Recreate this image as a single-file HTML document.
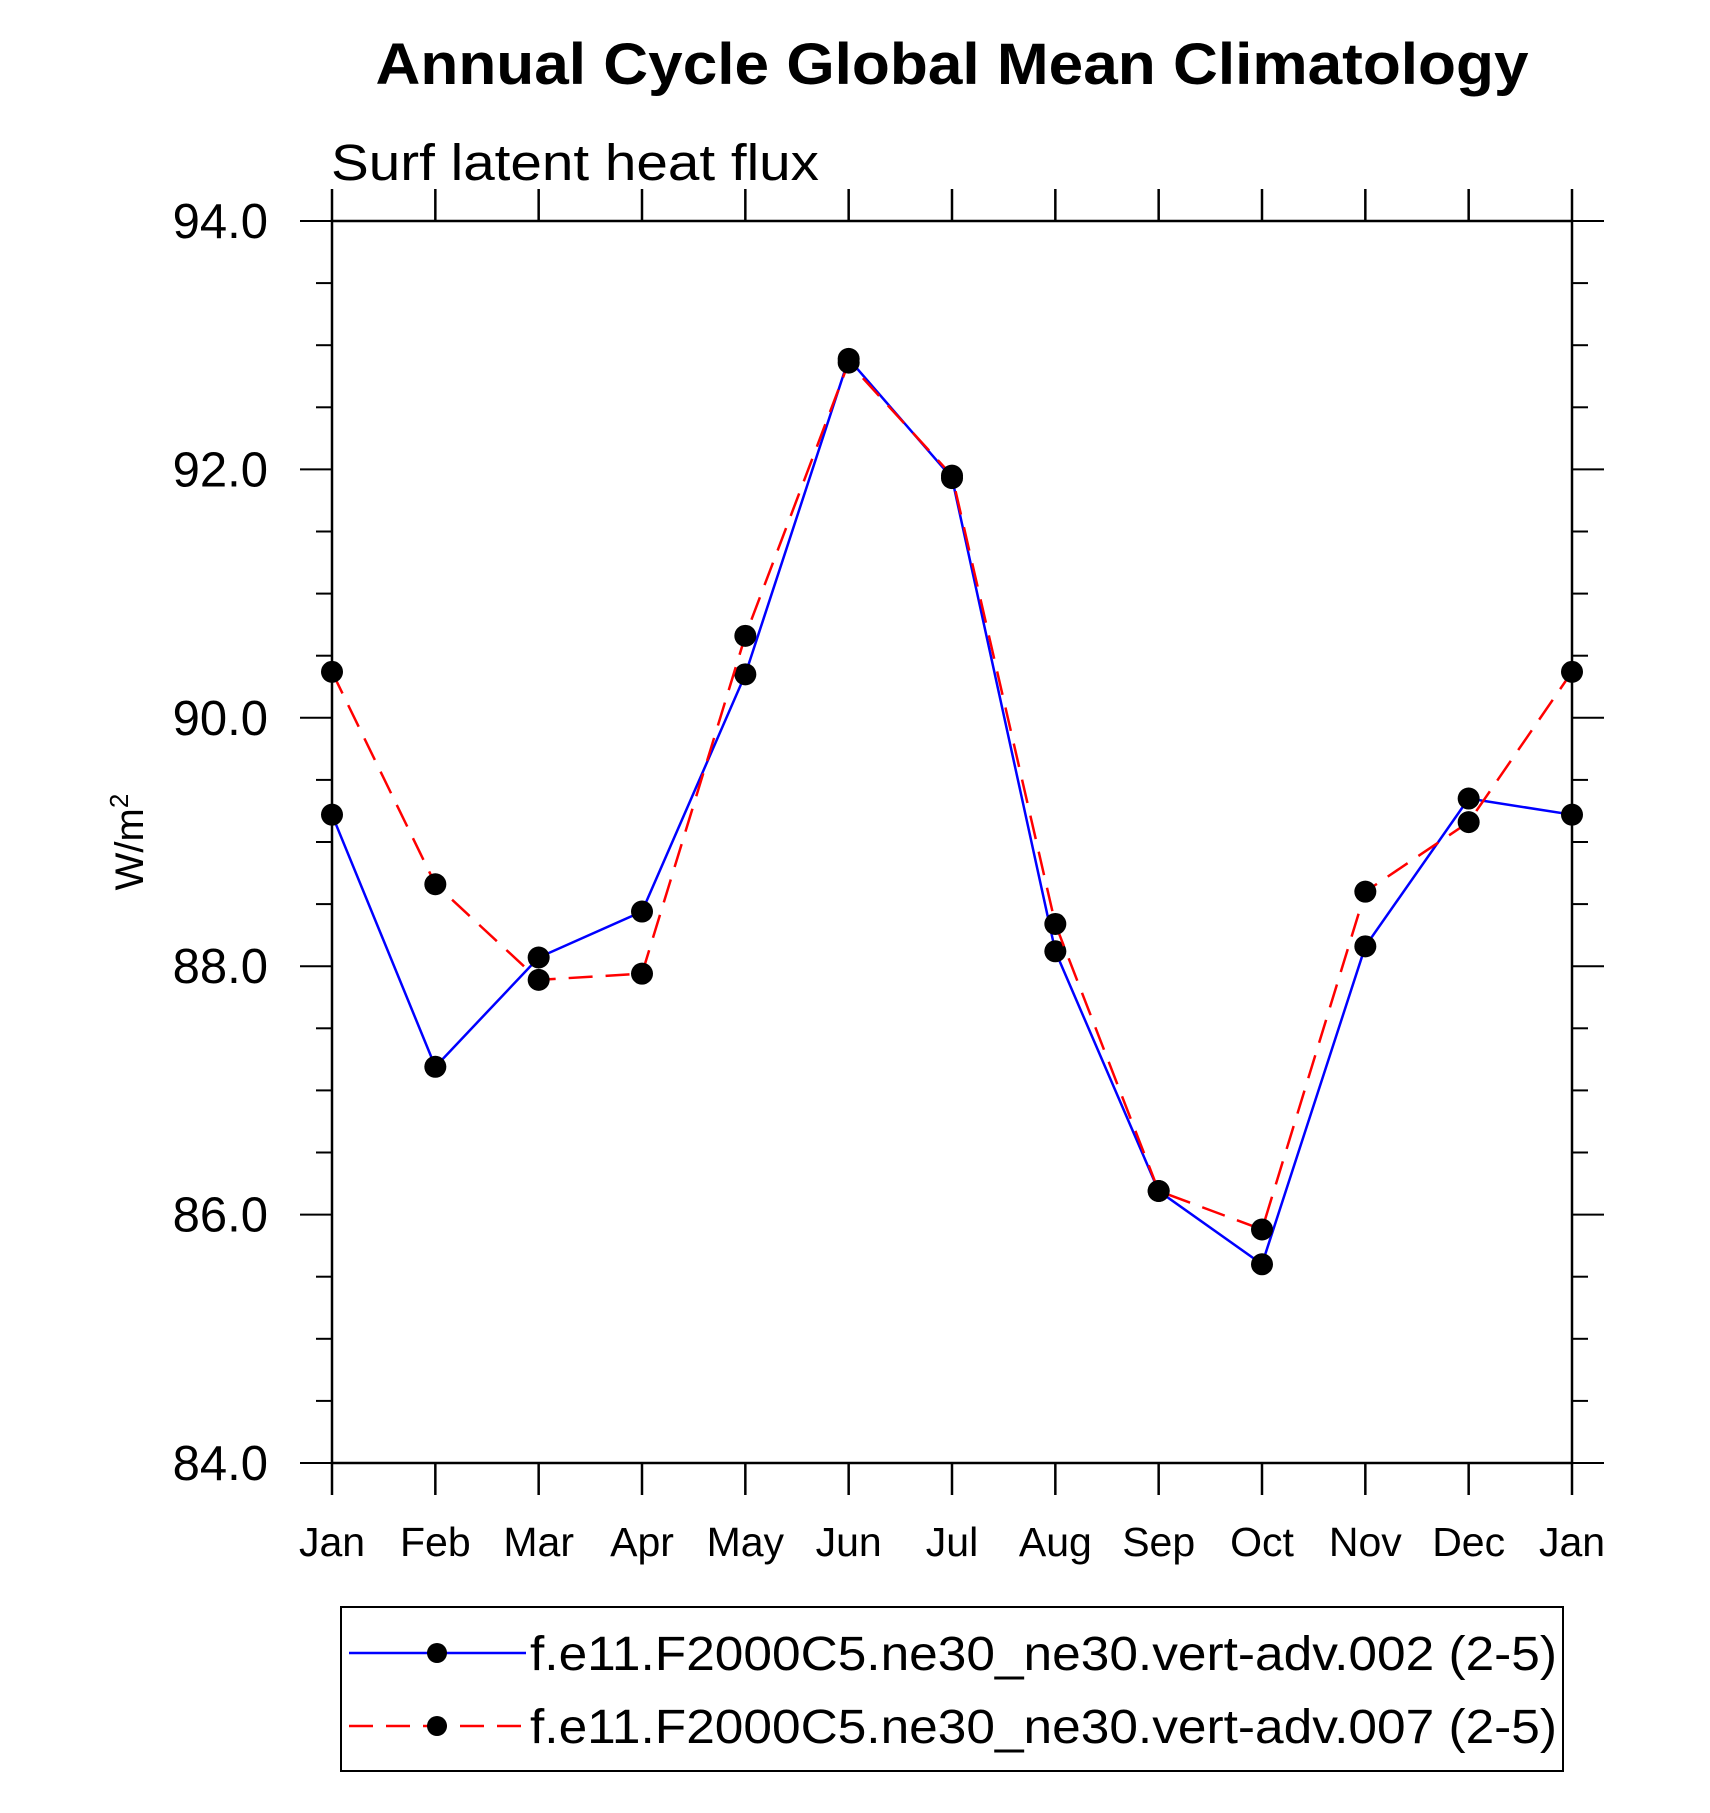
<!DOCTYPE html>
<html><head><meta charset="utf-8"><style>
body{margin:0;background:#fff}
svg{display:block;font-family:"Liberation Sans",Arial,sans-serif}
</style></head><body>
<svg id="chart" width="1710" height="1813" viewBox="0 0 1710 1813">
<text x="952" y="84" text-anchor="middle" font-size="58" font-weight="bold" textLength="1153" lengthAdjust="spacingAndGlyphs">Annual Cycle Global Mean Climatology</text>
<text x="331" y="180" font-size="51" textLength="488" lengthAdjust="spacingAndGlyphs">Surf latent heat flux</text>
<g id="axes"></g>
<g id="series"></g>
<text transform="translate(143,842) rotate(-90)" text-anchor="middle" font-size="40">W/m<tspan dy="-15" font-size="26">2</tspan></text>
<g>
<rect x="341" y="1607" width="1222" height="164" fill="none" stroke="#000" stroke-width="2"/>
<g>
<line x1="349" y1="1653" x2="526" y2="1653" stroke="#0000ff" stroke-width="2.5"/>
<circle cx="437" cy="1653" r="10" fill="#000"/>
<text x="530" y="1670" font-size="48" textLength="1027" lengthAdjust="spacingAndGlyphs">f.e11.F2000C5.ne30_ne30.vert-adv.002 (2-5)</text>
</g>
<g>
<line x1="349" y1="1726" x2="526" y2="1726" stroke="#ff0000" stroke-width="2.5" stroke-dasharray="24,13"/>
<circle cx="437" cy="1726" r="10" fill="#000"/>
<text x="530" y="1743" font-size="48" textLength="1027" lengthAdjust="spacingAndGlyphs">f.e11.F2000C5.ne30_ne30.vert-adv.007 (2-5)</text>
</g>
</g>
</svg>
<script>
const months = ["Jan","Feb","Mar","Apr","May","Jun","Jul","Aug","Sep","Oct","Nov","Dec","Jan"];
const series002 = [89.22,87.19,88.07,88.44,90.35,92.89,91.93,88.12,86.19,85.60,88.16,89.35,89.22];
const series007 = [90.37,88.66,87.89,87.94,90.66,92.86,91.95,88.34,86.19,85.88,88.60,89.16,90.37];
const yTicks = ["84.0","86.0","88.0","90.0","92.0","94.0"];
const yMin = 84, yMax = 94;

const L=332,R=1572,T=221,B=1463;
const NS="http://www.w3.org/2000/svg";
const xs = i => L + (R-L)*i/(months.length-1);
const ys = v => B - (B-T)*(v-yMin)/(yMax-yMin);
const axes=document.getElementById('axes');
const ser=document.getElementById('series');
function mk(tag,attrs,parent){const e=document.createElementNS(NS,tag);for(const k in attrs)e.setAttribute(k,attrs[k]);parent.appendChild(e);return e;}

const frame=mk('rect',{x:L,y:T,width:R-L,height:B-T,fill:'none',stroke:'#000','stroke-width':2.5},axes);



months.forEach((m,i)=>{
  const x=xs(i);
  const t1=mk('line',{x1:x,y1:B,x2:x,y2:B+32,stroke:'#000','stroke-width':2.5},axes);
  
  
  const t2=mk('line',{x1:x,y1:T,x2:x,y2:T-32,stroke:'#000','stroke-width':2.5},axes);
  
  
  const lb=mk('text',{x:x,y:1556,'text-anchor':'middle','font-size':41},axes);
  lb.textContent=m;
  
  
});
for(let v=yMin; v<=yMax+1e-9; v+=0.5){
  const y=ys(v);
  const major=Math.abs(v/2-Math.round(v/2))<1e-9;
  const len=major?32:16;
  const a=mk('line',{x1:L,y1:y,x2:L-len,y2:y,stroke:'#000','stroke-width':2},axes);
  
  
  const b=mk('line',{x1:R,y1:y,x2:R+len,y2:y,stroke:'#000','stroke-width':2},axes);
  
  
}
yTicks.forEach(s=>{
  const lb=mk('text',{x:268,y:ys(parseFloat(s))+17,'text-anchor':'end','font-size':49},axes);
  lb.textContent=s;
  
  
});

function draw(vals,color,dash,name){
  const pts=vals.map((v,i)=>xs(i)+','+ys(v)).join(' ');
  const pl=mk('polyline',{points:pts,fill:'none',stroke:color,'stroke-width':2.5},ser);
  if(dash)pl.setAttribute('stroke-dasharray',dash);
  
  
  vals.forEach((v,i)=>{
    const c=mk('circle',{cx:xs(i),cy:ys(v),r:11,fill:'#000'},ser);
    
    
  });
}
draw(series002,'#0000ff',null,'series-002');
draw(series007,'#ff0000','24,13','series-007');
</script>
</body></html>
